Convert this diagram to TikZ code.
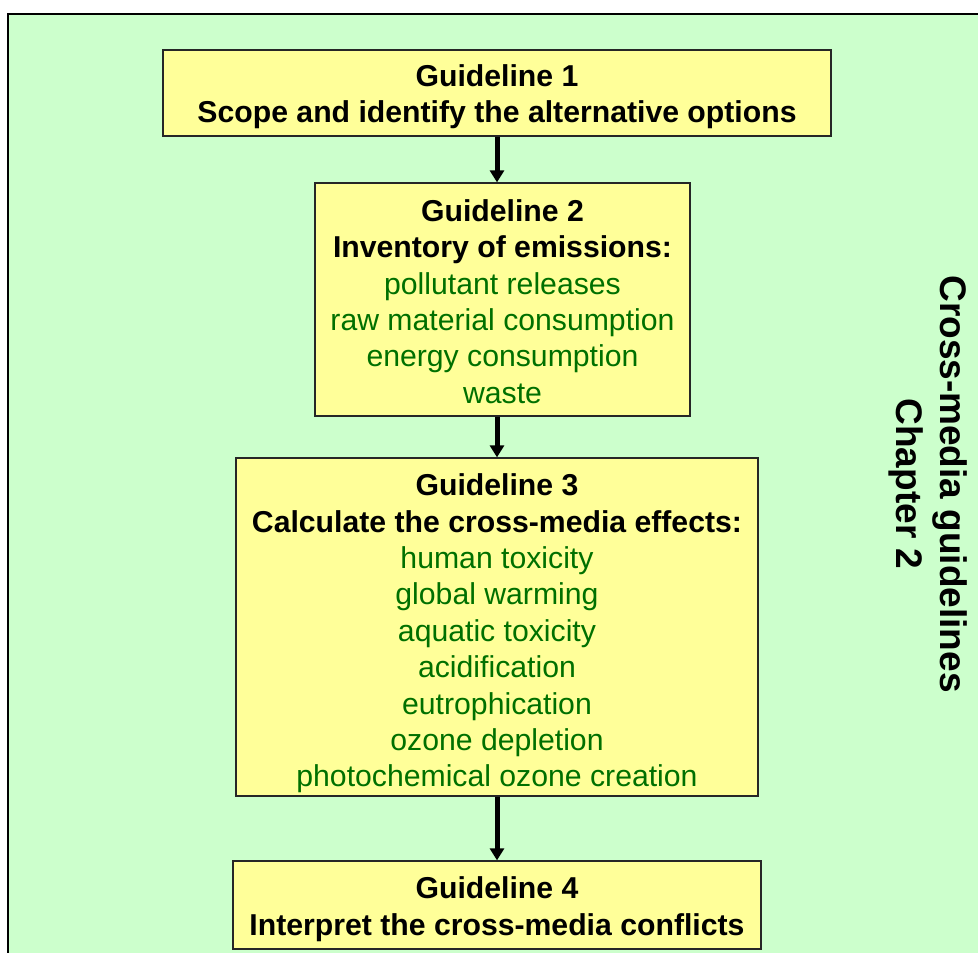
\documentclass[tikz,border=0pt]{standalone}
\usepackage{fontspec}
\setmainfont{Liberation Sans}
\usetikzlibrary{arrows.meta}
\definecolor{bggreen}{HTML}{CCFFCC}
\definecolor{boxyellow}{HTML}{FFFF99}
\definecolor{tgreen}{RGB}{0,112,0}
\tikzset{
  gbox/.style={draw=black!85, line width=1.3pt, fill=boxyellow, rectangle, inner sep=0pt},
  gtext/.style={inner sep=0pt, align=center, font=\fontsize{30.2}{36.4}\selectfont},
  flow/.style={line width=5pt, -{Triangle[width=14pt,length=12pt]}},
  side/.style={align=center, rotate=-90, font=\fontsize{37}{44}\selectfont\bfseries}
}
\newcommand{\gl}[1]{\textcolor{tgreen}{#1}}
\begin{document}
\begin{tikzpicture}[x=1pt,y=1pt]
\useasboundingbox (0,0) rectangle (978,-953);
\fill[white] (0,0) rectangle (978,-953);
\begin{scope}
\clip (0,0) rectangle (978,-953);
\draw[line width=2.5pt, fill=bggreen] (8,-14) rectangle (1000,-980);
\end{scope}
\node[gbox, minimum width=668pt, minimum height=86pt] (g1) at (497,-93) {};
\node[gtext] (t1) at ([yshift=-3.5pt]g1.center)
  {\textbf{Guideline 1}\\ \textbf{Scope and identify the alternative options}};
\node[gbox, minimum width=375pt, minimum height=233pt] (g2) at (502.5,-299.5) {};
\node[gtext] (t2) at ([yshift=-2pt]g2.center)
  {\textbf{Guideline 2}\\ \textbf{Inventory of emissions:}\\ \gl{pollutant releases}\\ \gl{raw material consumption}\\ \gl{energy consumption}\\ \gl{waste}};
\node[gbox, minimum width=522pt, minimum height=338pt] (g3) at (497,-627) {};
\node[gtext] (t3) at ([yshift=-6.5pt]g3.center)
  {\textbf{Guideline 3}\\ \textbf{Calculate the cross-media effects:}\\ \gl{human toxicity}\\ \gl{global warming}\\ \gl{aquatic toxicity}\\ \gl{acidification}\\ \gl{eutrophication}\\ \gl{ozone depletion}\\ \gl{photochemical ozone creation}};
\node[gbox, minimum width=528pt, minimum height=88pt] (g4) at (497,-905) {};
\node[gtext] (t4) at ([yshift=-4pt]g4.center)
  {\textbf{Guideline 4}\\ \textbf{Interpret the cross-media conflicts}};
\node[side] (side) at (928,-484) {Cross-media guidelines\\ Chapter 2};
\draw[flow] (g1.south) -- (g1.south |- g2.north);
\draw[flow] (g2.south -| g1.south) -- (g3.north);
\draw[flow] (g3.south) -- (g4.north);
\end{tikzpicture}
\end{document}
